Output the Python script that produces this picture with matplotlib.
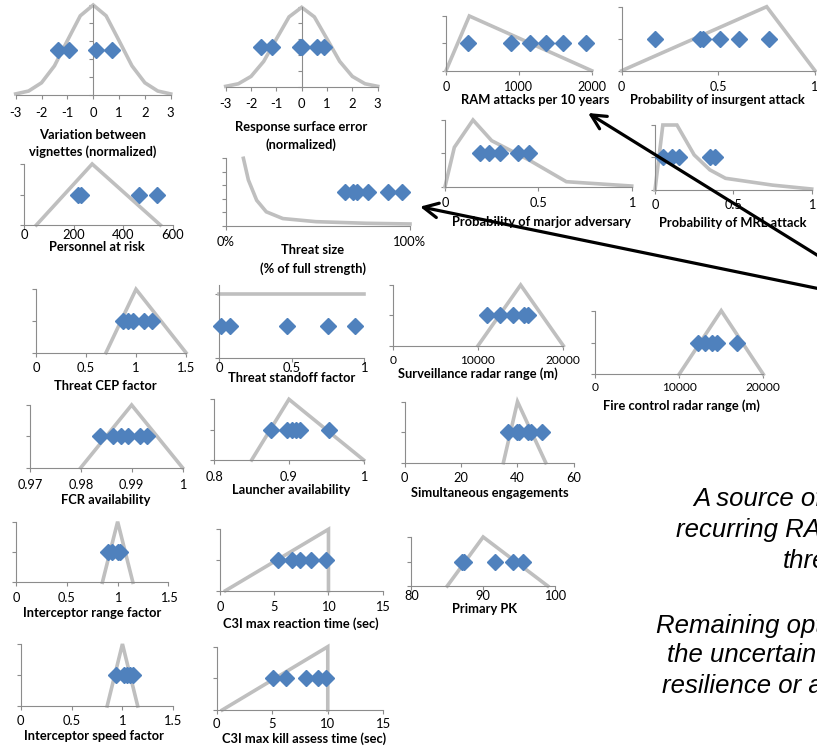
"""Grid of input-uncertainty panels: distribution curve (grey) + sampled
vignette values (blue diamonds), with two call-out arrows and a clipped
annotation on the right edge."""

import matplotlib

matplotlib.use("Agg")
import matplotlib.pyplot as plt
from matplotlib.patches import FancyArrowPatch

W, H = 817, 749
BLUE = "#4F81BD"
GREY = "#BFBFBF"
AXIS = "#8C8C8C"

plt.rcParams["font.family"] = ["Lato", "DejaVu Sans"]

# ---- data ----------------------------------------------------------------
GAUSS_X = [-3, -2.5, -2, -1.5, -1, -0.5, 0, 0.5, 1, 1.5, 2, 2.5, 3]
GAUSS_Y = [0.006, 0.022, 0.068, 0.162, 0.302, 0.44, 0.5,
           0.44, 0.302, 0.162, 0.068, 0.022, 0.006]
GAUSS_TICKS = [-3, -2, -1, 0, 1, 2, 3]
GAUSS_LABELS = ["-3", "-2", "-1", "0", "1", "2", "3"]
VIGNETTE_PTS = [-1.35, -0.93, 0.10, 0.72]
SURFACE_PTS = [-1.60, -1.18, -0.08, 0.03, 0.62, 0.88]

RAM_X = [0, 320, 2000]
RAM_Y = [0, 2, 0]
RAM_PTS = [298, 893, 1153, 1368, 1610, 1917]

INSURGENT_X = [0, 0.75, 1.0]
INSURGENT_Y = [0, 2, 0]
INSURGENT_PTS = [0.17, 0.405, 0.42, 0.51, 0.607, 0.762]

ADVERSARY_X = [0, 0.05, 0.15, 0.25, 0.45, 0.65, 1.0]
ADVERSARY_Y = [0, 1.18, 2, 1.38, 0.8, 0.15, 0.02]
ADVERSARY_PTS = [0.187, 0.237, 0.295, 0.393, 0.452]

MRL_X = [0, 0.05, 0.14, 0.25, 0.35, 0.45, 0.75, 1.0]
MRL_Y = [0, 2, 2, 1.08, 0.62, 0.36, 0.15, 0.03]
MRL_PTS = [0.053, 0.106, 0.155, 0.351, 0.383]

PERSONNEL_X = [50, 275, 550]
PERSONNEL_Y = [0, 2, 0]
PERSONNEL_PTS = [217, 230, 465, 535]

THREAT_X = [0.096, 0.123, 0.168, 0.22, 0.31, 0.49, 0.765, 1.0]
THREAT_Y = [1.0, 0.68, 0.38, 0.21, 0.11, 0.064, 0.04, 0.03]
THREAT_PTS = [0.647, 0.693, 0.711, 0.774, 0.882, 0.955]

CEP_X = [0.7, 1.0, 1.5]
CEP_Y = [0, 2, 0]
CEP_PTS = [0.873, 0.917, 0.967, 1.08, 1.163]

STANDOFF_X = [0, 1]
STANDOFF_Y = [2, 2]
STANDOFF_PTS = [0.009, 0.074, 0.469, 0.752, 0.936]

RADAR_X = [10000, 15000, 20000]
RADAR_Y = [0, 2, 0]
SURVEILLANCE_PTS = [11020, 12580, 14140, 15400, 15900]
FIRE_CONTROL_PTS = [12280, 13070, 13870, 14530, 16910]

FCR_X = [0.98, 0.99, 1.0]
FCR_Y = [0, 2, 0]
FCR_PTS = [0.9838, 0.9864, 0.988, 0.9892, 0.9917, 0.9931]

LAUNCHER_X = [0.85, 0.9, 1.0]
LAUNCHER_Y = [0, 2, 0]
LAUNCHER_PTS = [0.876, 0.898, 0.904, 0.91, 0.915, 0.954]

ENGAGE_X = [35, 40, 50]
ENGAGE_Y = [0, 2, 0]
ENGAGE_PTS = [36.6, 39.7, 40.6, 43.7, 44.8, 48.8]

FACTOR_X = [0.85, 1.0, 1.15]
FACTOR_Y = [0, 2, 0]
RANGE_FACTOR_PTS = [0.908, 0.946, 0.999, 1.021]
SPEED_FACTOR_PTS = [0.933, 1.015, 1.041, 1.074, 1.10]

C3I_X = [0.5, 10, 10]
C3I_Y = [0, 2, 0]
REACTION_PTS = [5.36, 6.6, 7.41, 8.36, 9.81]
KILL_ASSESS_PTS = [5.04, 6.21, 8.04, 9.09, 9.85]

PK_X = [85, 90, 99]
PK_Y = [0, 2, 0]
PK_PTS = [87.0, 87.4, 91.6, 94.2, 95.6]

NOTE_LINES = ["A source of", "recurring RAM", "threat",
              "Remaining options", "the uncertainty", "resilience or a"]

# ---- layout, figure pixels: x at xlim[0], x at xlim[1], y top, y axis,
#      y of tick labels, x centre of title, y of each title line, tick size
LAYOUT = {
    "vignette":   (15.7, 170.7, 5, 95, 115, 93, [135, 152], 9.4),
    "surface":    (225.7, 377.7, 7.3, 87.3, 106, 301, [127, 145], 9.4),
    "ram":        (446, 591.7, 16, 70.7, 89, 535, [100], 9.0),
    "insurgent":  (621.7, 815, 6.7, 70.7, 89, 717, [100], 9.0),
    "adversary":  (445, 631.7, 120, 186.7, 205, 541, [221.5], 9.2),
    "mrl":        (655, 811.7, 125, 190, 207, 733, [223], 9.2),
    "personnel":  (24, 172.7, 164, 225, 234, 97, [247], 9.4),
    "threat":     (225.7, 410, 158.3, 226, 244, 313, [250, 269], 9.4),
    "cep":        (36, 186, 289.3, 352.7, 370.5, 105, [386], 9.4),
    "standoff":   (219.3, 364.3, 285, 357.7, 366, 292, [378.5], 9.4),
    "surveil":    (392.7, 563.3, 285, 345.7, 362, 478, [374], 8.6),
    "firectl":    (595, 763.3, 310.7, 374.3, 389.5, 681, [406], 8.6),
    "fcr":        (29.9, 182.5, 405, 467.7, 486.5, 106, [499.5], 9.2),
    "launcher":   (214.3, 363.6, 399.3, 460, 479, 291, [490], 9.2),
    "engage":     (404.5, 574, 401.7, 462.7, 480, 490, [493], 9.2),
    "rangef":     (16.1, 168.4, 521.7, 582.3, 600, 92, [613], 9.2),
    "reaction":   (220, 382.7, 529.3, 590.7, 609, 301, [624], 9.2),
    "pk":         (411.4, 554.9, 537, 586, 597, 485, [609], 9.2),
    "speedf":     (20.7, 173.3, 644, 706, 723, 94, [736.5], 9.4),
    "killassess": (216.7, 383.3, 646.7, 710, 726.5, 304, [739], 9.4),
}

LABEL_PT = 9.3
TICK_LEN = 3.0  # points


def px_axes(fig, x0, x1, y_top, y_base):
    return fig.add_axes([x0 / W, 1 - y_base / H, (x1 - x0) / W,
                         (y_base - y_top) / H])


def draw_panel(fig, key, cx, cy, pts, level, xlim, xticks, xlabels,
               ylim, yticks, title, ycross=None):
    x0, x1, y_top, y_base, tick_y, tx, ty, tick_pt = LAYOUT[key]
    ax = px_axes(fig, x0, x1, y_top, y_base)
    ax.patch.set_alpha(0)
    ax.plot(cx, cy, color=GREY, lw=2.6, clip_on=False, zorder=2,
            solid_joinstyle="miter")
    ax.plot(pts, [level] * len(pts), ls="none", marker="D", ms=8.3,
            color=BLUE, mec=BLUE, clip_on=False, zorder=3)
    ax.set_xlim(*xlim)
    ax.set_ylim(*ylim)
    for s in ("top", "right"):
        ax.spines[s].set_visible(False)
    for s in ("left", "bottom"):
        ax.spines[s].set_color(AXIS)
        ax.spines[s].set_linewidth(0.8)
    ax.spines["left"].set_position(("data", xlim[0] if ycross is None else ycross))
    ax.set_xticks(xticks)
    ax.set_xticklabels(xlabels)
    ax.set_yticks(yticks)
    ax.set_yticklabels([])
    # pad so the tick-label centre lands on tick_y
    pad = (tick_y - y_base) * 72 / 100 - TICK_LEN - 0.62 * tick_pt
    ax.tick_params(direction="out", length=TICK_LEN, width=0.8, color=AXIS,
                   labelsize=tick_pt, labelcolor="black")
    ax.tick_params(axis="x", pad=max(pad, 0.2))
    for line, y in zip(title, ty):
        fig.text(tx / W, 1 - y / H, line, ha="center", va="center",
                 fontsize=LABEL_PT, fontweight="bold")
    return ax


def main():
    fig = plt.figure(figsize=(W / 100, H / 100), dpi=100)

    g_yt = [0, 0.1, 0.2, 0.3, 0.4, 0.5]
    tri = [0, 1, 2]
    draw_panel(fig, "vignette", GAUSS_X, GAUSS_Y, VIGNETTE_PTS, 0.25, (-3, 3),
               GAUSS_TICKS, GAUSS_LABELS, (0, 0.5), g_yt,
               ["Variation between", "vignettes (normalized)"], ycross=0)
    draw_panel(fig, "surface", GAUSS_X, GAUSS_Y, SURFACE_PTS, 0.25, (-3, 3),
               GAUSS_TICKS, GAUSS_LABELS, (0, 0.5), g_yt,
               ["Response surface error", "(normalized)"], ycross=0)
    draw_panel(fig, "ram", RAM_X, RAM_Y, RAM_PTS, 1, (0, 2000),
               [0, 1000, 2000], ["0", "1000", "2000"], (0, 2), tri,
               ["RAM attacks per 10 years"])
    draw_panel(fig, "insurgent", INSURGENT_X, INSURGENT_Y, INSURGENT_PTS, 1,
               (0, 1), [0, 0.5, 1], ["0", "0.5", "1"], (0, 2), tri,
               ["Probability of insurgent attack"])
    draw_panel(fig, "adversary", ADVERSARY_X, ADVERSARY_Y, ADVERSARY_PTS, 1,
               (0, 1), [0, 0.5, 1], ["0", "0.5", "1"], (0, 2), tri,
               ["Probability of marjor adversary"])
    draw_panel(fig, "mrl", MRL_X, MRL_Y, MRL_PTS, 1,
               (0, 1), [0, 0.5, 1], ["0", "0.5", "1"], (0, 2), tri,
               ["Probability of MRL attack"])
    draw_panel(fig, "personnel", PERSONNEL_X, PERSONNEL_Y, PERSONNEL_PTS, 1,
               (0, 600), [0, 200, 400, 600], ["0", "200", "400", "600"],
               (0, 2), tri, ["Personnel at risk"])
    draw_panel(fig, "threat", THREAT_X, THREAT_Y, THREAT_PTS, 0.5,
               (0, 1), [0, 1], ["0%", "100%"], (0, 1),
               [0, 0.2, 0.4, 0.6, 0.8, 1.0],
               ["Threat size", "(% of full strength)"])
    draw_panel(fig, "cep", CEP_X, CEP_Y, CEP_PTS, 1, (0, 1.5),
               [0, 0.5, 1, 1.5], ["0", "0.5", "1", "1.5"], (0, 2), tri,
               ["Threat CEP factor"])
    draw_panel(fig, "standoff", STANDOFF_X, STANDOFF_Y, STANDOFF_PTS, 1,
               (0, 1), [0, 0.5, 1], ["0", "0.5", "1"], (0, 2.28), tri,
               ["Threat standoff factor"])
    draw_panel(fig, "surveil", RADAR_X, RADAR_Y, SURVEILLANCE_PTS, 1,
               (0, 20000), [0, 10000, 20000], ["0", "10000", "20000"],
               (0, 2), tri, ["Surveillance radar range (m)"])
    draw_panel(fig, "firectl", RADAR_X, RADAR_Y, FIRE_CONTROL_PTS, 1,
               (0, 20000), [0, 10000, 20000], ["0", "10000", "20000"],
               (0, 2), tri, ["Fire control radar range (m)"])
    draw_panel(fig, "fcr", FCR_X, FCR_Y, FCR_PTS, 1, (0.97, 1.0),
               [0.97, 0.98, 0.99, 1.0], ["0.97", "0.98", "0.99", "1"],
               (0, 2), tri, ["FCR availability"])
    draw_panel(fig, "launcher", LAUNCHER_X, LAUNCHER_Y, LAUNCHER_PTS, 1,
               (0.8, 1.0), [0.8, 0.9, 1.0], ["0.8", "0.9", "1"],
               (0, 2), tri, ["Launcher availability"])
    draw_panel(fig, "engage", ENGAGE_X, ENGAGE_Y, ENGAGE_PTS, 1, (0, 60),
               [0, 20, 40, 60], ["0", "20", "40", "60"], (0, 2), tri,
               ["Simultaneous engagements"])
    draw_panel(fig, "rangef", FACTOR_X, FACTOR_Y, RANGE_FACTOR_PTS, 1,
               (0, 1.5), [0, 0.5, 1, 1.5], ["0", "0.5", "1", "1.5"],
               (0, 2), tri, ["Interceptor range factor"])
    draw_panel(fig, "reaction", C3I_X, C3I_Y, REACTION_PTS, 1, (0, 15),
               [0, 5, 10, 15], ["0", "5", "10", "15"], (0, 2), tri,
               ["C3I max reaction time (sec)"])
    draw_panel(fig, "pk", PK_X, PK_Y, PK_PTS, 1, (80, 100),
               [80, 90, 100], ["80", "90", "100"], (0, 2), tri,
               ["Primary PK"])
    draw_panel(fig, "speedf", FACTOR_X, FACTOR_Y, SPEED_FACTOR_PTS, 1,
               (0, 1.5), [0, 0.5, 1, 1.5], ["0", "0.5", "1", "1.5"],
               (0, 2), tri, ["Interceptor speed factor"])
    draw_panel(fig, "killassess", C3I_X, C3I_Y, KILL_ASSESS_PTS, 1, (0, 15),
               [0, 5, 10, 15], ["0", "5", "10", "15"], (0, 2), tri,
               ["C3I max kill assess time (sec)"])

    # call-out arrows coming in from the right edge
    arrows = [((850, 275.5), (588, 113)), ((850, 295.1), (420, 206.7))]
    for (xa, ya), (xb, yb) in arrows:
        fig.add_artist(FancyArrowPatch(
            (xa / W, 1 - ya / H), (xb / W, 1 - yb / H),
            transform=fig.transFigure, arrowstyle="->,head_length=0.7,head_width=0.35",
            mutation_scale=15, lw=2.3, color="black", shrinkA=0, shrinkB=0,
            zorder=10))

    # annotation text, clipped by the right edge of the slide
    note_pos = [(693, 505.5), (676, 536.5), (782.7, 567.5),
                (656, 632.5), (666.7, 662), (661.7, 693)]
    for text, (x, y) in zip(NOTE_LINES, note_pos):
        fig.text(x / W, 1 - y / H, text, ha="left", va="baseline",
                 fontsize=18.5, style="italic", family="Liberation Sans",
                 color="black", zorder=10)

    fig.savefig("out.png", dpi=100)
    plt.close(fig)


if __name__ == "__main__":
    main()
